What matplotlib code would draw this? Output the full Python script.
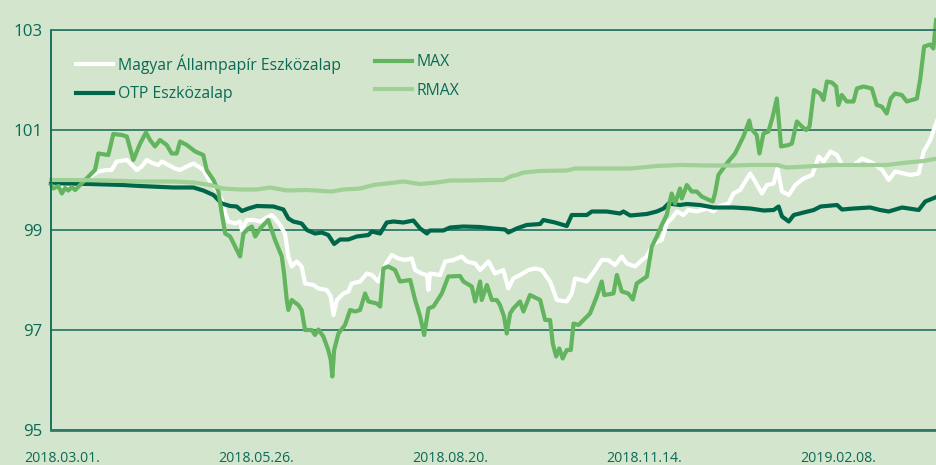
import matplotlib
matplotlib.use("Agg")
import matplotlib.pyplot as plt

# days counted from 2018.03.01. (data starts a few days earlier)
tick_days = [0, 86, 172, 258, 344]
tick_labels = ["2018.03.01.", "2018.05.26.", "2018.08.20.", "2018.11.14.", "2019.02.08."]

# MAX
max_days = [-4.9, -3.9, -1.6, -0.1, 1.3, 2.8, 4.3, 5.8, 8.0, 10.9,
            14.6, 16.1, 20.5, 22.7, 26.5, 28.7, 31.6, 34.6, 37.2, 39.0,
            41.2, 43.4, 46.4, 48.6, 50.8, 52.3, 55.3, 59.0, 62.6, 64.1,
            67.1, 69.3, 70.8, 72.3, 74.5, 76.7, 78.9, 80.4, 82.6, 84.1,
            85.6, 87.8, 91.4, 94.4, 97.4, 98.4, 99.6, 100.3, 101.8, 104.7,
            106.2, 107.7, 110.7, 112.1, 113.6, 115.8, 118.0, 119.1, 119.8, 120.6,
            122.5, 125.4, 127.7, 129.9, 132.1, 134.3, 135.8, 139.5, 141.0, 142.4,
            144.6, 147.6, 149.8, 154.3, 156.5, 158.7, 160.5, 162.4, 164.6, 168.3,
            171.2, 176.4, 177.9, 181.6, 183.1, 185.3, 186.0, 188.3, 190.5, 192.7,
            194.1, 195.9, 197.1, 198.6, 200.0, 203.0, 204.5, 207.4, 211.9, 214.1,
            216.3, 217.5, 219.0, 220.4, 221.9, 223.7, 225.5, 226.7, 228.9, 234.0,
            237.0, 239.2, 240.3, 244.4, 245.9, 248.1, 251.0, 253.0, 254.7, 259.2,
            261.4, 263.6, 265.8, 268.0, 270.2, 271.7, 273.9, 274.7, 276.9, 279.1,
            281.3, 283.5, 285.8, 288.4, 289.4, 290.9, 294.6, 298.3, 302.0, 304.6,
            305.3, 307.9, 309.1, 310.9, 313.1, 315.0, 316.8, 318.7, 322.0, 323.5,
            325.7, 327.9, 329.8, 331.3, 333.3, 336.0, 337.5, 339.0, 341.2, 343.1,
            344.1, 345.6, 347.8, 350.8, 352.3, 355.2, 358.9, 361.1, 363.3, 365.5,
            367.3, 369.2, 372.2, 374.4, 378.9, 380.3, 382.1, 384.8, 386.2, 387.4]
max_vals = [99.9, 99.83, 99.88, 99.73, 99.84, 99.79, 99.86, 99.8, 99.9, 100.03,
            100.2, 100.53, 100.5, 100.92, 100.9, 100.87, 100.4, 100.73, 100.95, 100.8,
            100.67, 100.8, 100.7, 100.53, 100.53, 100.77, 100.7, 100.57, 100.5, 100.2,
            100.0, 99.77, 99.33, 98.93, 98.87, 98.67, 98.47, 98.93, 99.03, 99.07,
            98.87, 99.03, 99.2, 98.8, 98.47, 98.13, 97.6, 97.4, 97.6, 97.5,
            97.4, 97.0, 97.0, 96.9, 97.01, 96.87, 96.6, 96.4, 96.07, 96.6,
            96.93, 97.1, 97.4, 97.37, 97.4, 97.73, 97.57, 97.53, 97.47, 98.23,
            98.27, 98.2, 97.97, 98.0, 97.6, 97.27, 96.9, 97.43, 97.47, 97.73,
            98.07, 98.08, 97.97, 97.87, 97.57, 97.97, 97.6, 97.9, 97.6, 97.6,
            97.5, 97.27, 96.93, 97.33, 97.43, 97.57, 97.37, 97.7, 97.6, 97.2,
            97.2, 96.73, 96.47, 96.63, 96.43, 96.6, 96.6, 97.13, 97.1, 97.33,
            97.67, 97.97, 97.7, 97.73, 98.1, 97.77, 97.73, 97.61, 97.93, 98.07,
            98.67, 98.87, 99.1, 99.3, 99.73, 99.53, 99.83, 99.63, 99.9, 99.77,
            99.77, 99.67, 99.62, 99.57, 99.73, 100.1, 100.33, 100.53, 100.87, 101.19,
            101.03, 100.9, 100.53, 100.93, 100.97, 101.27, 101.63, 100.67, 100.7, 100.73,
            101.17, 101.07, 101.0, 101.07, 101.8, 101.73, 101.6, 101.97, 101.95, 101.87,
            101.5, 101.7, 101.57, 101.57, 101.83, 101.87, 101.83, 101.5, 101.47, 101.33,
            101.63, 101.73, 101.7, 101.57, 101.63, 102.0, 102.67, 102.71, 102.63, 103.2]

# Magyar Állampapír Eszközalap
map_days = [-4.9, -0.9, 5.0, 8.0, 12.4, 16.1, 19.8, 22.0, 24.2, 28.7,
            31.0, 33.1, 35.3, 37.5, 40.5, 42.7, 44.2, 47.1, 50.1, 52.3,
            55.3, 58.2, 60.4, 62.6, 65.6, 68.6, 70.8, 72.3, 73.7, 76.7,
            78.9, 79.7, 81.9, 84.8, 87.8, 90.0, 93.0, 94.4, 96.6, 98.8,
            100.3, 101.8, 104.0, 106.2, 107.7, 111.4, 113.6, 117.3, 119.1, 120.3,
            121.8, 124.7, 126.9, 128.4, 132.1, 135.1, 137.3, 140.2, 143.2, 146.1,
            149.1, 152.0, 155.0, 156.5, 159.4, 161.7, 162.4, 163.1, 167.6, 169.8,
            173.5, 177.2, 179.4, 183.1, 185.3, 189.0, 191.9, 195.6, 197.8, 200.0,
            203.0, 206.7, 209.7, 212.6, 216.3, 219.3, 223.7, 225.9, 227.4, 232.6,
            236.3, 239.2, 242.0, 245.1, 248.1, 250.3, 254.0, 257.0, 259.2, 262.1,
            265.8, 268.0, 270.2, 272.5, 275.4, 277.6, 281.3, 285.8, 288.7, 290.9,
            295.4, 297.6, 300.5, 305.0, 307.2, 310.2, 312.4, 315.4, 317.1, 319.1,
            322.1, 325.0, 328.7, 332.5, 335.4, 337.6, 340.6, 343.5, 345.7, 350.9,
            354.6, 359.7, 363.5, 366.4, 369.3, 373.0, 376.0, 379.7, 381.9, 384.8,
            387.7]
map_vals = [99.9, 99.88, 99.87, 99.93, 100.07, 100.17, 100.2, 100.2, 100.37, 100.4,
            100.3, 100.2, 100.27, 100.4, 100.33, 100.3, 100.37, 100.3, 100.23, 100.2,
            100.27, 100.33, 100.27, 100.2, 99.97, 99.8, 99.6, 99.33, 99.17, 99.13,
            99.17, 99.0, 99.2, 99.2, 99.17, 99.23, 99.3, 99.23, 99.1, 98.93,
            98.47, 98.27, 98.37, 98.27, 97.93, 97.9, 97.83, 97.8, 97.67, 97.3,
            97.6, 97.73, 97.77, 97.93, 97.97, 98.13, 98.1, 97.97, 98.3, 98.5,
            98.43, 98.4, 98.43, 98.2, 98.13, 98.1, 97.8, 98.13, 98.1, 98.37,
            98.4, 98.47, 98.37, 98.33, 98.2, 98.37, 98.13, 98.2, 97.83, 98.03,
            98.1, 98.2, 98.23, 98.2, 97.97, 97.6, 97.57, 97.73, 98.03, 97.97,
            98.2, 98.4, 98.4, 98.3, 98.47, 98.33, 98.27, 98.4, 98.47, 98.73,
            98.8, 99.13, 99.23, 99.37, 99.3, 99.4, 99.37, 99.43, 99.37, 99.47,
            99.53, 99.73, 99.8, 100.13, 99.97, 99.73, 99.9, 99.93, 100.23, 99.77,
            99.7, 99.9, 100.03, 100.1, 100.47, 100.37, 100.57, 100.5, 100.3, 100.3,
            100.43, 100.33, 100.2, 100.0, 100.17, 100.13, 100.1, 100.13, 100.57, 100.8,
            101.17]

# OTP Eszközalap
otp_days = [-4.9, 0.6, 12.4, 27.2, 34.6, 49.3, 58.2, 62.6, 67.1, 70.8,
            74.5, 77.4, 79.7, 82.6, 86.3, 93.7, 98.1, 100.3, 102.5, 106.2,
            108.5, 112.1, 115.1, 118.0, 120.6, 123.2, 126.9, 130.6, 135.8, 137.3,
            141.0, 143.9, 146.9, 151.3, 155.7, 158.7, 161.7, 163.1, 169.0, 172.0,
            177.9, 185.3, 191.2, 196.4, 197.8, 201.5, 205.9, 211.9, 213.3, 218.5,
            223.7, 225.9, 232.6, 234.8, 241.4, 247.3, 248.8, 251.8, 259.2, 263.6,
            266.6, 268.8, 273.9, 276.9, 282.8, 288.7, 297.6, 305.0, 311.0, 315.4,
            317.6, 319.1, 322.1, 324.3, 328.7, 333.2, 336.2, 343.5, 345.7, 350.9,
            358.2, 362.6, 366.4, 372.3, 379.7, 382.6, 387.0]
otp_vals = [99.95, 99.93, 99.92, 99.9, 99.88, 99.85, 99.85, 99.79, 99.7, 99.53,
            99.48, 99.47, 99.38, 99.43, 99.48, 99.47, 99.41, 99.23, 99.17, 99.13,
            99.0, 98.93, 98.95, 98.9, 98.72, 98.81, 98.81, 98.87, 98.9, 98.97,
            98.93, 99.15, 99.17, 99.15, 99.19, 99.03, 98.93, 98.99, 98.99, 99.05,
            99.07, 99.06, 99.03, 99.01, 98.95, 99.03, 99.1, 99.12, 99.2, 99.15,
            99.08, 99.3, 99.3, 99.37, 99.37, 99.33, 99.37, 99.29, 99.32, 99.37,
            99.43, 99.53, 99.5, 99.52, 99.5, 99.45, 99.45, 99.43, 99.39, 99.4,
            99.47, 99.27, 99.17, 99.3, 99.35, 99.4, 99.47, 99.5, 99.41, 99.43,
            99.45, 99.4, 99.37, 99.45, 99.4, 99.57, 99.65]

# RMAX
rmax_days = [-4.9, 5.0, 19.8, 34.6, 49.3, 58.2, 65.6, 71.5, 78.9, 86.3,
             92.2, 99.6, 108.5, 119.5, 124.7, 132.1, 138.0, 143.9, 151.3, 158.7,
             166.1, 172.0, 179.4, 189.7, 195.6, 199.3, 201.5, 204.5, 211.9, 223.7,
             227.4, 237.0, 251.8, 263.6, 273.9, 287.2, 297.6, 305.0, 316.8, 321.2,
             330.1, 341.9, 353.7, 365.5, 374.4, 381.8, 387.7]
rmax_vals = [100.0, 100.0, 99.99, 99.97, 99.97, 99.95, 99.9, 99.83, 99.81, 99.81,
             99.85, 99.79, 99.8, 99.77, 99.81, 99.83, 99.9, 99.93, 99.97, 99.92,
             99.95, 99.99, 99.99, 100.0, 100.0, 100.08, 100.1, 100.15, 100.18, 100.19,
             100.23, 100.23, 100.23, 100.28, 100.3, 100.29, 100.29, 100.3, 100.3, 100.25,
             100.27, 100.3, 100.3, 100.3, 100.35, 100.38, 100.43]

# colours
bg = "#d3e5cd"
txt = "#0b6a55"
grid_c = "#2f7a68"

plt.rcParams["font.family"] = ["Open Sans", "DejaVu Sans"]

fig = plt.figure(figsize=(9.37, 4.65), dpi=100, facecolor=bg)
ax = fig.add_axes([51 / 937, 1 - 430 / 465, 1 - 51 / 937, 400 / 465])
ax.set_facecolor(bg)

lw = 3.0
l1, = ax.plot(map_days, map_vals, color="white", lw=lw, clip_on=False)
l2, = ax.plot(otp_days, otp_vals, color="#00664a", lw=lw, clip_on=False)
l3, = ax.plot(max_days, max_vals, color="#62b55e", lw=lw, clip_on=False)
l4, = ax.plot(rmax_days, rmax_vals, color="#9fd096", lw=lw, clip_on=False)

ax.set_xlim(-4.9, 387.8)
ax.set_ylim(95, 103)

# gridlines
ax.set_yticks([95, 97, 99, 101, 103])
ax.yaxis.grid(True, color=grid_c, lw=1.3)
ax.set_axisbelow(True)

ax.spines["right"].set_visible(False)
ax.spines["left"].set_color(txt)
ax.spines["left"].set_linewidth(1.3)
ax.spines["top"].set_color(grid_c)
ax.spines["top"].set_linewidth(1.3)
ax.spines["bottom"].set_color(grid_c)
ax.spines["bottom"].set_linewidth(2.0)

ax.set_xticks(tick_days)
ax.set_xticklabels(tick_labels)
ax.tick_params(axis="x", length=0, pad=15, labelsize=10.2, labelcolor=txt)
ax.tick_params(axis="y", length=0, pad=6, labelsize=12.2, labelcolor=txt)

# legend, two columns placed separately
leg_kw = dict(frameon=False, fontsize=11.3, handlelength=2.35, handletextpad=0.3,
              labelspacing=0.8, borderpad=0, borderaxespad=0, labelcolor=txt,
              loc="upper left", bbox_transform=fig.transFigure)
leg1 = ax.legend([l1, l2], ["Magyar Állampapír Eszközalap", "OTP Eszközalap"],
                 bbox_to_anchor=(76 / 937, 1 - 54 / 465), **leg_kw)
ax.add_artist(leg1)
ax.legend([l3, l4], ["MAX", "RMAX"], bbox_to_anchor=(375 / 937, 1 - 54 / 465), **leg_kw)

plt.savefig("out.png", dpi=100, facecolor=bg)
